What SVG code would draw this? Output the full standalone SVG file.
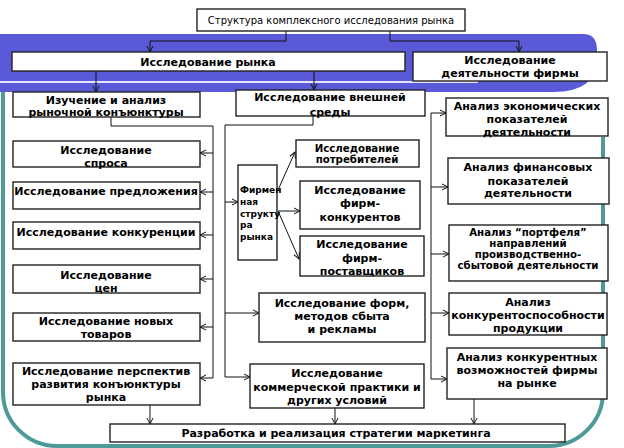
<svg xmlns="http://www.w3.org/2000/svg" width="624" height="448" viewBox="0 0 624 448">
<style>
.b{fill:#fff;stroke:#222;stroke-width:1.4}
.t{font-family:"DejaVu Sans",sans-serif;font-weight:bold;font-size:11px;fill:#000;text-anchor:middle}
.n{font-size:10.2px}
.s{font-family:"DejaVu Sans",sans-serif;font-weight:bold;font-size:9px;fill:#000}
.c{fill:none;stroke:#111;stroke-width:1}
.a{fill:none;stroke:#111;stroke-width:1;marker-end:url(#ah)}
</style>
<defs>
<marker id="ah" viewBox="0 0 8 8" refX="7" refY="4" markerWidth="8" markerHeight="8" markerUnits="userSpaceOnUse" orient="auto">
<path d="M1,1 L7,4 L1,7" fill="none" stroke="#111" stroke-width="1"/>
</marker>
</defs>
<rect width="624" height="448" fill="#fff"/>
<g id="background">
<path d="M0,34 H583 Q597,34 597,50 V58 Q597,92 553,92 H0 Z" fill="#5a5ad8"/>
<rect x="0" y="81" width="478" height="2" fill="#e4e4ff"/>
<path d="M3,92 V392 A54,54 0 0 0 57,446 H549 A54,54 0 0 0 603,392 V137" fill="none" stroke="#4e9a98" stroke-width="4"/>
</g>
<g id="connectors">
<path class="a" d="M286,31 V41 H150 V52"/>
<path class="a" d="M390,31 V41 H519 V52"/>
<path class="a" d="M96,71 V92"/>
<path class="a" d="M314,71 V90"/>
<path class="c" d="M111,117 V126 H213 V378"/>
<path class="a" d="M213,153 H200"/>
<path class="a" d="M213,192 H200"/>
<path class="a" d="M213,235 H200"/>
<path class="a" d="M213,279 H200"/>
<path class="a" d="M213,327 H200"/>
<path class="a" d="M213,378 H200"/>
<path class="c" d="M313,116 V125 H225 V377"/>
<path class="a" d="M225,202 H238"/>
<path class="a" d="M225,313 H259"/>
<path class="a" d="M225,377 H250"/>
<path class="a" d="M278,190 L295,152"/>
<path class="a" d="M278,211 H300"/>
<path class="a" d="M278,211 L299,259"/>
<path class="c" d="M431,113 V379"/>
<path class="a" d="M431,113 H446"/>
<path class="a" d="M431,187 H448"/>
<path class="a" d="M431,254 H449"/>
<path class="a" d="M431,313 H449"/>
<path class="a" d="M431,379 H447"/>
<path class="a" d="M150,405 V424"/>
<path class="a" d="M335,408 V424"/>
<path class="a" d="M474,399 V424"/>
</g>
<g id="title"><rect class="b" x="197" y="9" width="268" height="22"/><text x="331" y="24" style="font-family:'DejaVu Sans',sans-serif;font-size:10px;text-anchor:middle">Структура комплексного исследования рынка</text></g>
<g id="market"><rect class="b" x="12" y="52" width="393" height="19"/><text class="t" x="208" y="66">Исследование рынка</text></g>
<g id="firm"><rect class="b" x="413" y="52" width="194" height="29"/><text class="t" x="510" y="64">Исследование</text><text class="t" x="510" y="77">деятельности фирмы</text></g>
<g id="izuch"><rect class="b" x="13" y="92" width="187" height="25"/><text class="t" x="106" y="104">Изучение и анализ</text><text class="t" x="106" y="116">рыночной конъюнктуры</text></g>
<g id="vnesh"><rect class="b" x="236" y="90" width="189" height="26"/><text class="t" x="330" y="101">Исследование внешней</text><text class="t" x="330" y="116">среды</text></g>
<g id="spros"><rect class="b" x="13" y="141" width="187" height="26"/><text class="t" x="106" y="154">Исследование</text><text class="t" x="106" y="167">спроса</text></g>
<g id="predl"><rect class="b" x="13" y="182" width="187" height="27"/><text class="t" x="106" y="195">Исследование предложения</text></g>
<g id="konk"><rect class="b" x="13" y="222" width="187" height="27"/><text class="t" x="106" y="236">Исследование конкуренции</text></g>
<g id="cen"><rect class="b" x="13" y="265" width="187" height="28"/><text class="t" x="106" y="279">Исследование</text><text class="t" x="106" y="292">цен</text></g>
<g id="nov"><rect class="b" x="13" y="313" width="187" height="28"/><text class="t" x="106" y="325">Исследование новых</text><text class="t" x="106" y="338">товаров</text></g>
<g id="persp"><rect class="b" x="13" y="363" width="187" height="42"/><text class="t" x="106" y="375">Исследование перспектив</text><text class="t" x="106" y="388">развития конъюнктуры</text><text class="t" x="106" y="401">рынка</text></g>
<g id="firmstr"><rect class="b" x="238" y="165" width="39" height="95"/><text class="s" x="240" y="193">Фирмен</text><text class="s" x="240" y="205">ная</text><text class="s" x="240" y="217">структу</text><text class="s" x="240" y="228">ра</text><text class="s" x="240" y="240">рынка</text></g>
<g id="potreb"><rect class="b" x="296" y="140" width="123" height="27"/><text class="t n" x="357" y="152">Исследование</text><text class="t n" x="357" y="163">потребителей</text></g>
<g id="konkur"><rect class="b" x="300" y="181" width="120" height="48"/><text class="t" x="360" y="194">Исследование</text><text class="t" x="360" y="207">фирм-</text><text class="t" x="360" y="221">конкурентов</text></g>
<g id="postav"><rect class="b" x="300" y="236" width="124" height="40"/><text class="t" x="362" y="248">Исследование</text><text class="t" x="362" y="262">фирм-</text><text class="t" x="362" y="275">поставщиков</text></g>
<g id="form"><rect class="b" x="259" y="293" width="166" height="49"/><text class="t" x="342" y="307">Исследование форм,</text><text class="t" x="342" y="320">методов сбыта</text><text class="t" x="342" y="333">и рекламы</text></g>
<g id="kommerch"><rect class="b" x="250" y="364" width="174" height="44"/><text class="t" x="337" y="377">Исследование</text><text class="t" x="337" y="391">коммерческой практики и</text><text class="t" x="337" y="404">других условий</text></g>
<g id="econ"><rect class="b" x="446" y="98" width="162" height="38"/><text class="t" x="527" y="110">Анализ экономических</text><text class="t" x="527" y="123">показателей</text><text class="t" x="527" y="136">деятельности</text></g>
<g id="fin"><rect class="b" x="448" y="158" width="161" height="46"/><text class="t" x="528" y="171">Анализ финансовых</text><text class="t" x="528" y="185">показателей</text><text class="t" x="528" y="197">деятельности</text></g>
<g id="portf"><rect class="b" x="449" y="225" width="159" height="56"/><text class="t n" x="528" y="236">Анализ “портфеля”</text><text class="t n" x="528" y="247">направлений</text><text class="t n" x="528" y="258">производственно-</text><text class="t n" x="528" y="269">сбытовой деятельности</text></g>
<g id="konkurspos"><rect class="b" x="449" y="293" width="158" height="42"/><text class="t" x="528" y="306">Анализ</text><text class="t" x="528" y="319">конкурентоспособности</text><text class="t" x="528" y="332">продукции</text></g>
<g id="konkvoz"><rect class="b" x="447" y="348" width="160" height="51"/><text class="t" x="527" y="361">Анализ конкурентных</text><text class="t" x="527" y="374">возможностей фирмы</text><text class="t" x="527" y="387">на рынке</text></g>
<g id="strat"><rect class="b" x="110" y="424" width="455" height="18"/><text class="t" x="336" y="437">Разработка и реализация стратегии маркетинга</text></g>
</svg>
